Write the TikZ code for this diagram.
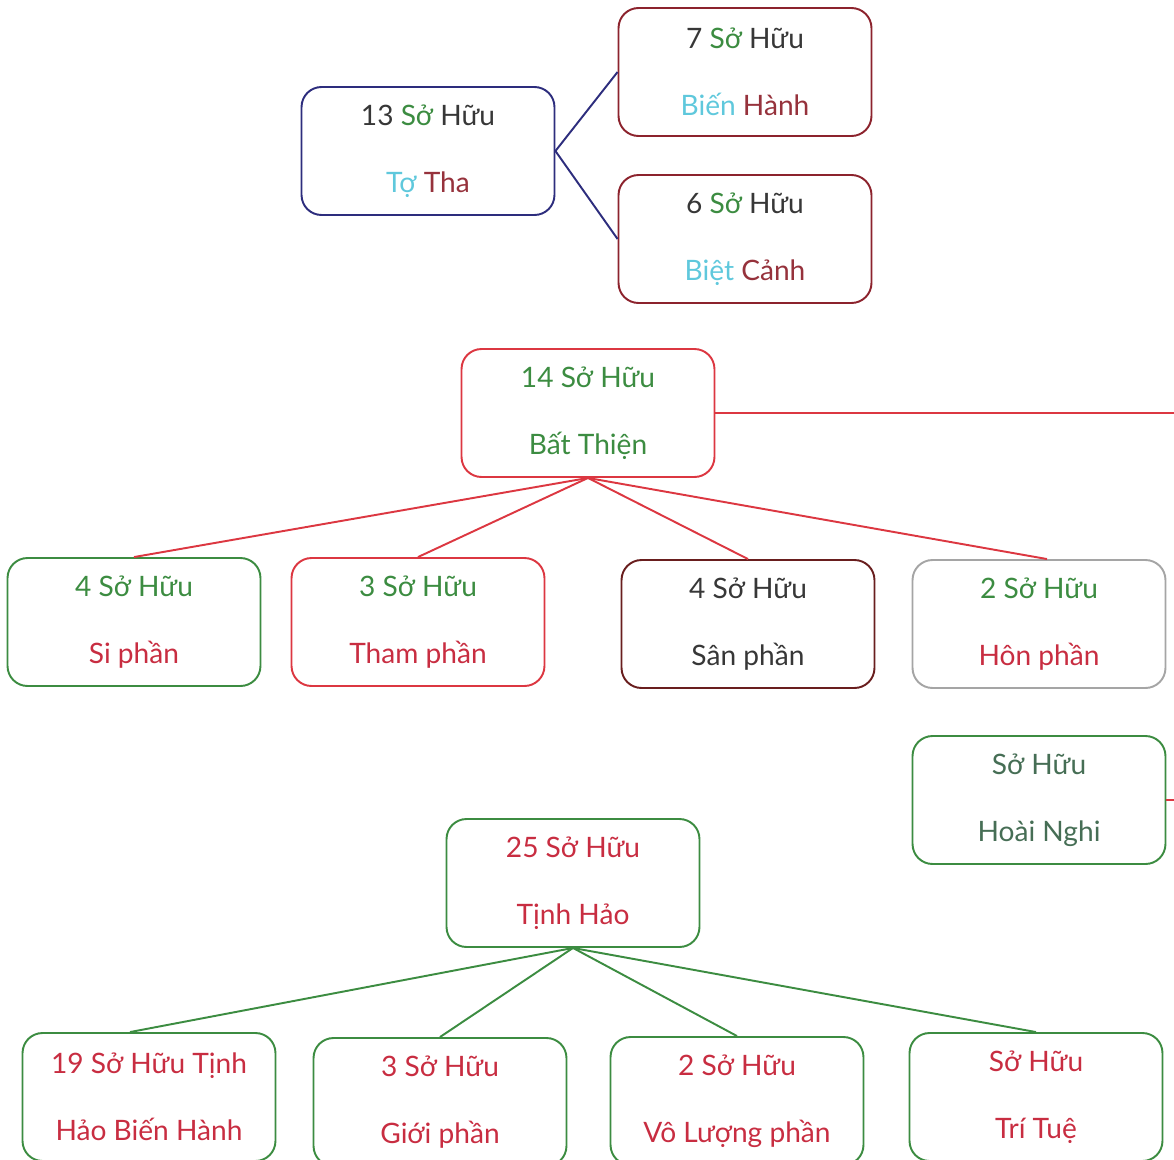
\documentclass[tikz,border=0pt]{standalone}
\usepackage{fontspec}
\setmainfont{Lato}
\usepackage{tikz}

\definecolor{navy}{RGB}{45,45,125}
\definecolor{wine}{RGB}{140,35,45}
\definecolor{maroon}{RGB}{105,30,30}
\definecolor{redline}{RGB}{220,55,65}
\definecolor{leaf}{RGB}{60,140,65}
\definecolor{ash}{RGB}{165,165,165}
\definecolor{ink}{RGB}{55,55,55}
\definecolor{sky}{RGB}{95,200,220}
\definecolor{brick}{RGB}{150,50,60}
\definecolor{rose}{RGB}{200,45,65}
\definecolor{moss}{RGB}{70,110,85}

\tikzset{box/.style={draw,line width=1.1pt,rounded corners=0.4cm,minimum width=5.06cm,minimum height=2.56cm,align=center,font=\fontsize{16}{38}\selectfont},
    link/.style={line width=1.1pt}}

\begin{document}
\begin{tikzpicture}[x=0.02cm,y=-0.02cm]
    \clip (0,0) rectangle (1174,1160);

    %Tha
    \node[box,draw=navy] (tatha) at (428,151) {{\color{ink}13} {\color{leaf}Sở} {\color{ink}Hữu}\\{\color{sky}Tợ} {\color{brick}Tha}};
    \node[box,draw=wine] (bienhanh) at (745,72) {{\color{ink}7} {\color{leaf}Sở} {\color{ink}Hữu}\\{\color{sky}Biến} {\color{brick}Hành}};
    \node[box,draw=wine] (bietcanh) at (745,239) {{\color{ink}6} {\color{leaf}Sở} {\color{ink}Hữu}\\{\color{sky}Biệt} {\color{brick}Cảnh}};

    %Bat thien
    \node[box,draw=redline,text=leaf] (batthien) at (588,413) {14 Sở Hữu\\Bất Thiện};
    \node[box,draw=leaf] (si) at (134,622) {{\color{leaf}4 Sở Hữu}\\{\color{rose}Si phần}};
    \node[box,draw=redline] (tham) at (418,622) {{\color{leaf}3 Sở Hữu}\\{\color{rose}Tham phần}};
    \node[box,draw=maroon,text=ink] (san) at (748,624) {4 Sở Hữu\\Sân phần};
    \node[box,draw=ash] (hon) at (1039,624) {{\color{leaf}2 Sở Hữu}\\{\color{rose}Hôn phần}};
    \node[box,draw=leaf,text=moss] (hoainghi) at (1039,800) {Sở Hữu\\Hoài Nghi};

    %Tinh hao
    \node[box,draw=leaf,text=rose] (tinhhao) at (573,883) {25 Sở Hữu\\Tịnh Hảo};
    \node[box,draw=leaf,text=rose] (bienhanhth) at (149,1097) {19 Sở Hữu Tịnh\\Hảo Biến Hành};
    \node[box,draw=leaf,text=rose] (gioi) at (440,1102) {3 Sở Hữu\\Giới phần};
    \node[box,draw=leaf,text=rose] (voluong) at (737,1101) {2 Sở Hữu\\Vô Lượng phần};
    \node[box,draw=leaf,text=rose] (tritue) at (1036,1097) {Sở Hữu\\Trí Tuệ};

    \coordinate (edge1) at (1174,413);
    \coordinate (edge2) at (1174,800);

    \draw[navy,link] (tatha.east) -- (bienhanh.west);
    \draw[navy,link] (tatha.east) -- (bietcanh.west);
    \draw[redline,link] (batthien.east) -- (edge1);
    \draw[redline,link] (hoainghi.east) -- (edge2);
    \draw[redline,link] (batthien.south) -- (si.north);
    \draw[redline,link] (batthien.south) -- (tham.north);
    \draw[redline,link] (batthien.south) -- (san.north);
    \draw[redline,link] (batthien.south) -- ([xshift=0.16cm]hon.north);
    \draw[leaf,link] (tinhhao.south) -- ([xshift=-0.38cm]bienhanhth.north);
    \draw[leaf,link] (tinhhao.south) -- (gioi.north);
    \draw[leaf,link] (tinhhao.south) -- (voluong.north);
    \draw[leaf,link] (tinhhao.south) -- (tritue.north);

\end{tikzpicture}
\end{document}
